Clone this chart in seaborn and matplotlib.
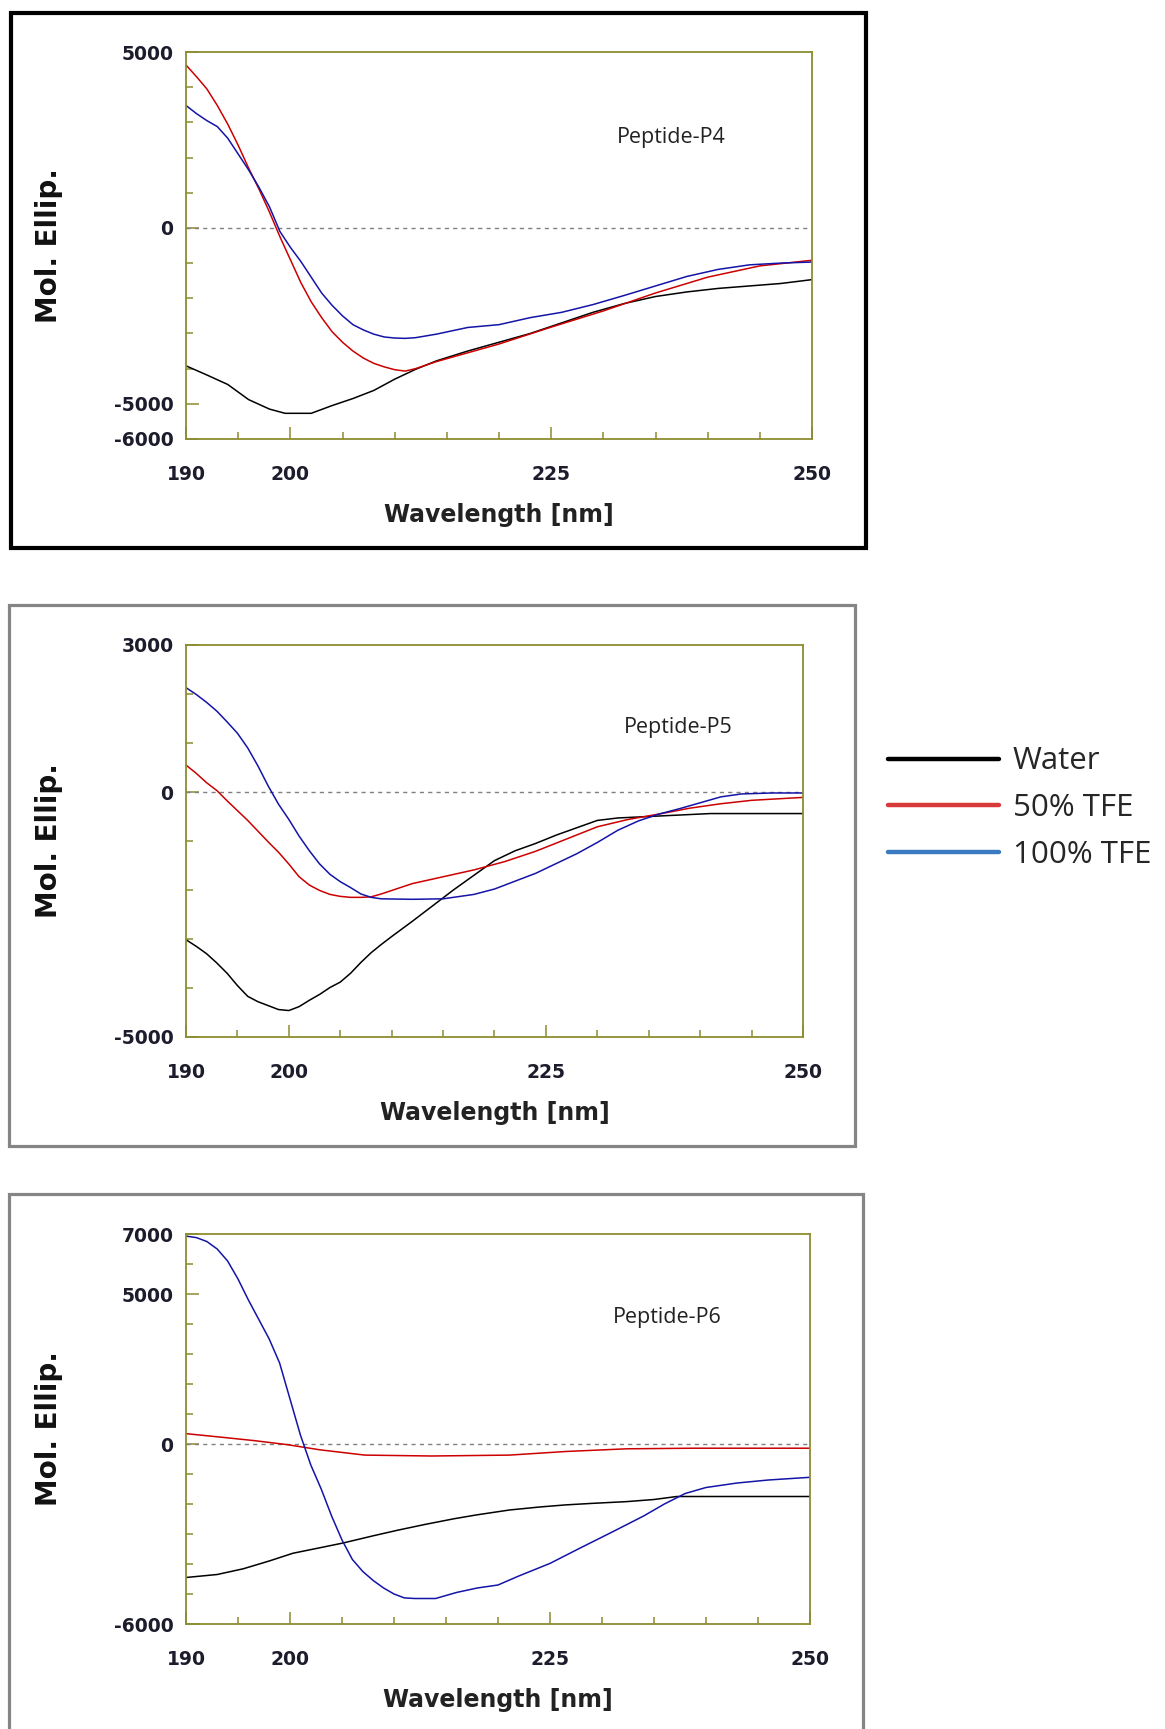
import numpy as np
import pandas as pd
import matplotlib
matplotlib.use("Agg")
import matplotlib.pyplot as plt
import seaborn as sns
from matplotlib.lines import Line2D
from matplotlib.patches import Rectangle
from matplotlib.ticker import MultipleLocator, FixedLocator

# --- data ---
solvents = ["Water", "50% TFE", "100% TFE"]

# Peptide-P4
p4_water_x = [190, 192, 194, 196, 198, 199.5, 202, 204, 206, 208, 210, 212, 214, 217, 220, 223, 226, 229, 232, 235, 238, 241, 244, 247, 250]
p4_water_y = [-3920, -4180, -4450, -4880, -5150, -5270, -5270, -5050, -4850, -4620, -4300, -4020, -3780, -3500, -3250, -3000, -2700, -2400, -2150, -1950, -1820, -1720, -1650, -1580, -1470]
p4_tfe50_x = [190, 191, 192, 193, 194, 195, 196, 197, 198, 199, 200, 201, 202, 203, 204, 205, 206, 207, 208, 209, 210, 211, 212, 214, 217, 220, 225, 230, 235, 240, 245, 250]
p4_tfe50_y = [4630, 4300, 3950, 3480, 2950, 2350, 1700, 1100, 450, -250, -900, -1550, -2100, -2550, -2950, -3250, -3500, -3700, -3850, -3950, -4030, -4070, -4000, -3800, -3550, -3300, -2820, -2360, -1850, -1400, -1080, -920]
p4_tfe100_x = [190, 191, 192, 193, 194, 195, 196, 197, 198, 199, 200, 201, 202, 203, 204, 205, 206, 207, 208, 209, 210, 211, 212, 214, 217, 220, 223, 226, 229, 232, 235, 238, 241, 244, 247, 250]
p4_tfe100_y = [3480, 3250, 3050, 2880, 2550, 2100, 1650, 1150, 600, -100, -550, -950, -1400, -1850, -2200, -2500, -2750, -2900, -3020, -3100, -3130, -3140, -3120, -3020, -2830, -2750, -2550, -2400, -2180, -1920, -1650, -1380, -1180, -1050, -1000, -970]

# Peptide-P5
p5_water_x = [190, 191, 192, 193, 194, 195, 196, 197, 198, 199, 200, 201, 202, 203, 204, 205, 206, 207, 208, 209, 210, 212, 214, 216, 218, 220, 222, 224, 226, 228, 230, 232, 234, 237, 241, 250]
p5_water_y = [-3015, -3150, -3300, -3490, -3700, -3950, -4170, -4280, -4360, -4440, -4460, -4380, -4250, -4130, -3990, -3880, -3700, -3480, -3280, -3110, -2950, -2640, -2320, -2000, -1700, -1400, -1200, -1050, -880, -730, -580, -530, -510, -480, -440, -440]
p5_tfe50_x = [190, 191, 192, 193, 194, 195, 196, 197, 198, 199, 200, 201, 202, 203, 204, 205, 206, 207, 208, 209, 210, 212, 215, 218, 221, 224, 227, 230, 233, 236, 239, 242, 245, 250]
p5_tfe50_y = [550, 380, 190, 30, -180, -380, -580, -800, -1020, -1230, -1470, -1730, -1900, -2010, -2090, -2130, -2150, -2150, -2140, -2080, -2010, -1870, -1730, -1590, -1420, -1210, -960, -710, -560, -450, -330, -240, -170, -110]
p5_tfe100_x = [190, 191, 192, 193, 194, 195, 196, 197, 198, 199, 200, 201, 202, 203, 204, 205, 206, 207, 208, 209, 212, 215, 218, 220, 222, 224, 226, 228, 230, 232, 234, 236, 238, 240, 242, 244, 247, 250]
p5_tfe100_y = [2130, 1990, 1830, 1650, 1430, 1200, 900, 530, 120, -250, -560, -900, -1200, -1470, -1680, -1830, -1950, -2080, -2150, -2180, -2190, -2180, -2090, -1980, -1820, -1660, -1460, -1260, -1030, -780, -590, -450, -340, -220, -100, -40, -20, -20]

# Peptide-P6
p6_water_x = [190, 193, 195.5, 198, 200.3, 203, 205.1, 208, 210.4, 213, 215.8, 218, 221.1, 224, 226.5, 229, 232.4, 235, 237.2, 250]
p6_water_y = [-4450, -4350, -4160, -3900, -3640, -3450, -3300, -3060, -2870, -2680, -2490, -2360, -2200, -2100, -2030, -1980, -1920, -1850, -1750, -1750]
p6_tfe50_x = [190, 193.3, 196.5, 199.7, 202.9, 207.2, 213.6, 221.1, 226.5, 232.4, 238.8, 250]
p6_tfe50_y = [345, 230, 115, -20, -195, -370, -400, -370, -250, -160, -140, -140]
p6_tfe100_x = [190, 191, 192, 193, 194, 195, 196, 197, 198, 199, 200, 201, 202, 203, 204, 205, 206, 207, 208, 209, 210, 211, 212, 214, 215, 216, 218, 220, 222, 225, 228, 231, 234, 236, 238, 240, 243, 246, 250]
p6_tfe100_y = [6930, 6880, 6750, 6500, 6100, 5500, 4800, 4150, 3500, 2700, 1500, 300, -700, -1500, -2400, -3200, -3850, -4250, -4550, -4800, -5000, -5130, -5150, -5150, -5050, -4950, -4800, -4700, -4400, -3980, -3450, -2930, -2400, -2000, -1650, -1450, -1300, -1200, -1110]

x_ticks = [190, 200, 225, 250]
p4_yticks = [5000, 0, -5000, -6000]
p5_yticks = [3000, 0, -5000]
p6_yticks = [7000, 5000, 0, -6000]

line_colors = {"Water": "#000000", "50% TFE": "#cc0000", "100% TFE": "#1414a8"}
legend_colors = ["#000000", "#d83a3a", "#3a7ac0"]


def make_df(pairs):
    frames = []
    for name, (xs, ys) in zip(solvents, pairs):
        frames.append(pd.DataFrame({"wl": xs, "ellip": ys, "solvent": name}))
    return pd.concat(frames, ignore_index=True)


panels = [
    ("Peptide-P4", make_df([(p4_water_x, p4_water_y), (p4_tfe50_x, p4_tfe50_y), (p4_tfe100_x, p4_tfe100_y)]),
     p4_yticks, (186, 52, 812, 439), (0.689, 0.778)),
    ("Peptide-P5", make_df([(p5_water_x, p5_water_y), (p5_tfe50_x, p5_tfe50_y), (p5_tfe100_x, p5_tfe100_y)]),
     p5_yticks, (186, 645, 803, 1037), (0.71, 0.79)),
    ("Peptide-P6", make_df([(p6_water_x, p6_water_y), (p6_tfe50_x, p6_tfe50_y), (p6_tfe100_x, p6_tfe100_y)]),
     p6_yticks, (186, 1234, 810, 1624), (0.684, 0.785)),
]

sns.set_theme(style="white")
plt.rcParams["font.family"] = ["DejaVu Sans"]
plt.rcParams["axes.unicode_minus"] = False

W, H = 1165, 1729
fig = plt.figure(figsize=(W / 100, H / 100), dpi=100)
fig.patch.set_facecolor("white")

# outer frames around each panel (pixel boxes -> figure fraction)
frames = [((11, 13, 866, 548), "#000000", 3.0), ((9, 605, 855, 1146), "#858585", 2.3), ((9, 1194, 863, 1740), "#858585", 2.3)]
for (x0, y0, x1, y1), col, lw in frames:
    fig.patches.append(Rectangle((x0 / W, 1 - y1 / H), (x1 - x0) / W, (y1 - y0) / H,
                                 transform=fig.transFigure, fill=False, edgecolor=col, linewidth=lw))

spine_col = "#8c8c30"
tick_col = "#1c1c2c"

for title, df, yticks, (x0, y0, x1, y1), (tx, ty) in panels:
    ax = fig.add_axes([x0 / W, 1 - y1 / H, (x1 - x0) / W, (y1 - y0) / H])
    ax.axhline(0, color="#808080", lw=1.0, dashes=(3, 3), zorder=1)
    sns.lineplot(data=df, x="wl", y="ellip", hue="solvent", palette=line_colors,
                 hue_order=solvents, sort=False, estimator=None, linewidth=1.1, legend=False, ax=ax)
    ax.set_xlim(190, 250)
    ax.set_ylim(min(yticks), max(yticks))
    ax.xaxis.set_major_locator(FixedLocator(x_ticks))
    ax.xaxis.set_minor_locator(MultipleLocator(5))
    ax.yaxis.set_major_locator(FixedLocator(yticks))
    ax.yaxis.set_minor_locator(MultipleLocator(1000))
    ax.tick_params(which="both", direction="in", color=spine_col, width=1.1, bottom=True, left=True)
    ax.tick_params(which="major", length=9)
    ax.tick_params(which="minor", length=5)
    ax.tick_params(axis="y", which="major", pad=9, labelsize=13.5, labelcolor=tick_col)
    ax.tick_params(axis="x", which="major", pad=19, labelsize=13.5, labelcolor=tick_col)
    for lab in ax.get_xticklabels() + ax.get_yticklabels():
        lab.set_fontweight("bold")
    for s in ax.spines.values():
        s.set_visible(True)
        s.set_color(spine_col)
        s.set_linewidth(1.3)
    pw, ph = x1 - x0, y1 - y0
    ax.set_ylabel("Mol. Ellip.", fontsize=20, fontweight="bold", color="#111111")
    ax.yaxis.set_label_coords(-123 / pw, 0.5)
    ax.set_xlabel("Wavelength [nm]", fontsize=17, fontweight="bold", color="#222222")
    ax.xaxis.set_label_coords(0.5, -64 / ph)
    ax.xaxis.label.set_va("top")
    ax.text(tx, ty, title, transform=ax.transAxes, fontsize=15.5, family=["Open Sans", "DejaVu Sans"],
            color="#222222", va="center", ha="left")

handles = [Line2D([], [], color=c, lw=3.2) for c in legend_colors]
fig.legend(handles, solvents, loc="center left", bbox_to_anchor=(888 / W, 1 - 808 / H),
           frameon=False, borderpad=0, borderaxespad=0, handlelength=3.55, handletextpad=0.45,
           labelspacing=0.53, prop={"family": ["Open Sans", "DejaVu Sans"], "size": 22.5})

fig.savefig("out.png", dpi=100, facecolor="white")
